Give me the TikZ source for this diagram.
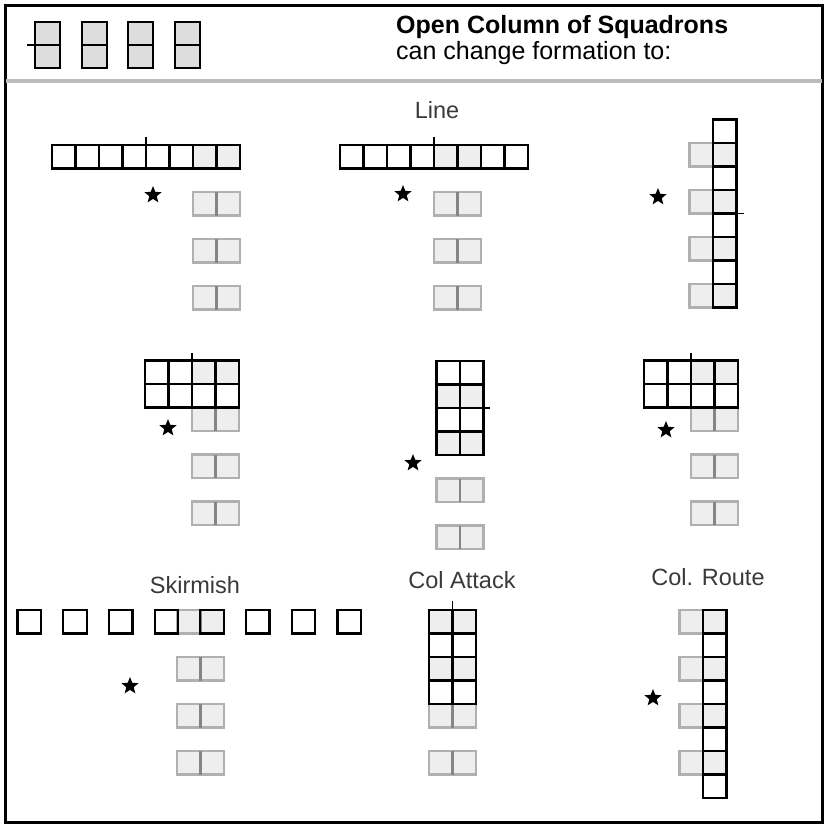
\documentclass[tikz,border=0pt]{standalone}
\usepackage{fontspec}
\setmainfont{Liberation Sans}
\usetikzlibrary{shapes.geometric}
\definecolor{sqgray}{HTML}{EEEEEE}
\definecolor{rline}{HTML}{B0B0B0}
\definecolor{rdivc}{HTML}{858585}
\definecolor{icongray}{HTML}{DDDDDD}
\definecolor{sepgray}{HTML}{BBBBBB}
\definecolor{labgray}{HTML}{3A3A3A}
\newcommand\rpair[2]{\draw[rsq] (#1,#2) rectangle ++(47,23.5); \draw[rdiv] ({#1+23.5},#2) -- ++(0,23.5);}
\newcommand\wsqr[2]{\draw[wsq] (#1,#2) rectangle ++(23.5,23.5);}
\newcommand\gsqr[2]{\draw[gsq] (#1,#2) rectangle ++(23.5,23.5);}
\newcommand\osqr[2]{\draw[osq] (#1,#2) rectangle ++(23.5,23.5);}
\begin{document}
\begin{tikzpicture}[x=1pt,y=-1pt,
  wsq/.style={draw=black,line width=2.2pt,fill=white},
  gsq/.style={draw=black,line width=2.2pt,fill=sqgray},
  osq/.style={draw=black,line width=2.2pt},
  rsq/.style={draw=rline,line width=2.2pt,fill=sqgray},
  rdiv/.style={draw=rdivc,line width=2.2pt},
  tick/.style={draw=black,line width=1.8pt},
  icon/.style={draw=black,line width=2.2pt,fill=icongray},
  starn/.style={star,star points=5,star point ratio=2.3,minimum size=18pt,inner sep=0pt,fill=black,draw=none},
  lab/.style={font=\fontsize{23.5}{28}\selectfont,text=labgray,inner sep=0pt},
  head/.style={font=\fontsize{25}{30}\selectfont,anchor=base west,inner sep=0pt}]
\useasboundingbox (0,0) rectangle (828,827);
\fill[white] (0,0) rectangle (828,827);
% frame
\draw[line width=3pt] (5.5,5.5) rectangle (822,822);
\draw[sepgray,line width=4pt] (5.5,80.5) -- (822,80.5);
% header icons
\foreach \x in {35,82,128,175}{
  \draw[icon] (\x,22) rectangle ++(25,46);
  \draw[black,line width=2.2pt] (\x,45) -- ++(25,0);
}
\draw[tick] (27,45) -- (35,45);
\node[head,font=\fontsize{25}{30}\selectfont\bfseries] (t1) at (396,34) {Open Column of Squadrons};
\node[head] (t2) at (396,59.5) {can change formation to:};

% panel 1: line (reserve right)
\rpair{193}{192}\rpair{193}{239}\rpair{193}{286}
\foreach \i in {0,...,5}{\wsqr{52+\i*23.5}{145}}
\gsqr{193}{145}\gsqr{216.5}{145}
\draw[tick] (146,137) -- (146,145);
\node[starn] (s1) at (153,195) {};

% panel 2: line (centre)
\node[lab] (l2) at (437,110) {Line};
\rpair{434}{192}\rpair{434}{239}\rpair{434}{286}
\foreach \i in {0,1,2,3,6,7}{\wsqr{340+\i*23.5}{145}}
\gsqr{434}{145}\gsqr{457.5}{145}
\draw[tick] (434,137) -- (434,145);
\node[starn] (s2) at (403,194) {};

% panel 3: line (vertical)
\foreach \y in {143,190,237,284}{\rpair{689.5}{\y}}
\foreach \i in {0,2,4,6}{\wsqr{713}{119.5+\i*23.5}}
\foreach \i in {1,3,5,7}{\gsqr{713}{119.5+\i*23.5}}
\draw[tick] (736.5,213.5) -- (744,213.5);
\node[starn] (s3) at (658,197) {};

% panel 4
\rpair{192}{407.5}\rpair{192}{454.5}\rpair{192}{501.5}
\foreach \i in {0,1,2,3}{\wsqr{145+\i*23.5}{384}}
\wsqr{145}{360.5}\wsqr{168.5}{360.5}
\gsqr{192}{360.5}\gsqr{215.5}{360.5}
\draw[tick] (192,352.5) -- (192,360.5);
\node[starn] (s4) at (168,428) {};

% panel 5
\rpair{436.5}{478.5}\rpair{436.5}{525.5}
\foreach \j in {0,2}{\wsqr{436.5}{361+\j*23.5}\wsqr{460}{361+\j*23.5}}
\foreach \j in {1,3}{\gsqr{436.5}{361+\j*23.5}\gsqr{460}{361+\j*23.5}}
\draw[tick] (483.5,408) -- (490,408);
\node[starn] (s5) at (413,463) {};

% panel 6
\rpair{691}{407.5}\rpair{691}{454.5}\rpair{691}{501.5}
\foreach \i in {0,1,2,3}{\wsqr{644+\i*23.5}{384}}
\wsqr{644}{360.5}\wsqr{667.5}{360.5}
\gsqr{691}{360.5}\gsqr{714.5}{360.5}
\draw[tick] (691,352.5) -- (691,360.5);
\node[starn] (s6) at (666,430) {};

% panel 7: skirmish
\node[lab] (l7) at (195,585) {Skirmish};
\rpair{177}{610}\rpair{177}{657}\rpair{177}{704}\rpair{177}{751}
\foreach \i in {0,...,7}{\osqr{17.5+\i*45.7}{610}}
\node[starn] (s7) at (130,686) {};

% panel 8: col attack
\node[lab] (l8) at (462,580) {Col Attack};
\rpair{429}{704}\rpair{429}{751}
\foreach \j in {1,3}{\wsqr{429}{610+\j*23.5}\wsqr{452.5}{610+\j*23.5}}
\foreach \j in {0,2}{\gsqr{429}{610+\j*23.5}\gsqr{452.5}{610+\j*23.5}}
\draw[tick] (452.5,601) -- (452.5,610);

% panel 9: col route
\node[lab] (l9) at (708,577) {Col. Route};
\foreach \y in {610,657,704,751}{\rpair{679.5}{\y}}
\foreach \i in {1,3,5,7}{\wsqr{703}{610+\i*23.5}}
\foreach \i in {0,2,4,6}{\gsqr{703}{610+\i*23.5}}
\node[starn] (s9) at (653,698) {};
\end{tikzpicture}
\end{document}
